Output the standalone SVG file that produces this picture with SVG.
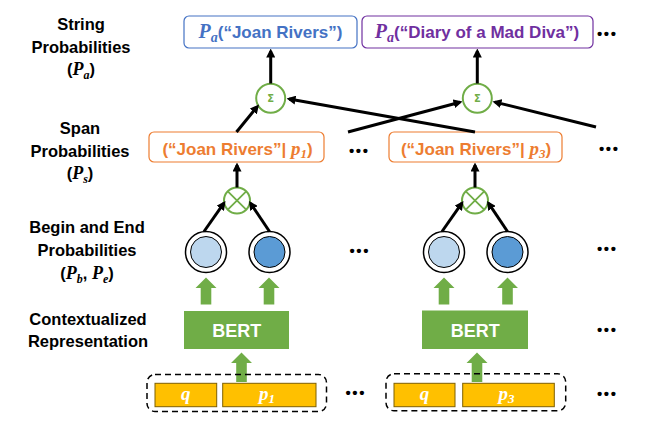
<svg xmlns="http://www.w3.org/2000/svg" width="653" height="434" viewBox="0 0 653 434">
<defs>
<style>
.lbl{font-family:"Liberation Sans",Arial,sans-serif;font-weight:bold;font-size:16.5px;fill:#000;text-anchor:middle}
.m{font-family:"Liberation Serif","DejaVu Serif",serif;font-style:italic;font-weight:bold}
.bx{font-family:"Liberation Sans",Arial,sans-serif;font-weight:bold;font-size:17px;text-anchor:middle}
.dots{font-family:"Liberation Sans",Arial,sans-serif;font-weight:bold;font-size:15px;fill:#000;letter-spacing:1.6px}
.conn{stroke:#000;stroke-width:3;fill:none;marker-end:url(#ah)}
.sum{fill:#fff;stroke:#70AD47;stroke-width:2}
.sumt{font-family:"DejaVu Sans",sans-serif;font-weight:bold;font-size:10px;fill:#70AD47;text-anchor:middle}
.gar{fill:#70AD47}
.outer{fill:#fff;stroke:#000;stroke-width:1.5}
.bert{fill:#70AD47}
.bertt{font-family:"Liberation Sans",Arial,sans-serif;font-weight:bold;font-size:18px;fill:#fff;text-anchor:middle}
.yel{fill:#FFC000;stroke:#7F6000;stroke-width:1}
.yt{font-family:"Liberation Serif","DejaVu Serif",serif;font-style:italic;font-weight:bold;font-size:19px;fill:#fff;text-anchor:middle}
.dash{fill:none;stroke:#000;stroke-width:1.5;stroke-dasharray:6 4}
</style>
<marker id="ah" viewBox="0 0 10 10" refX="7" refY="5" markerWidth="3" markerHeight="3" orient="auto" markerUnits="strokeWidth">
<path d="M0,0 L10,5 L0,10 z" fill="#000"/>
</marker>
</defs>
<rect width="653" height="434" fill="#fff"/>

<g id="labels">
<text class="lbl" x="81" y="30">String</text>
<text class="lbl" x="81" y="52.5">Probabilities</text>
<text class="lbl" x="81" y="75">(<tspan class="m" font-size="18">P</tspan><tspan class="m" font-size="12" dy="4">a</tspan><tspan dy="-4">)</tspan></text>
<text class="lbl" x="80" y="134">Span</text>
<text class="lbl" x="80" y="156.5">Probabilities</text>
<text class="lbl" x="80" y="179">(<tspan class="m" font-size="18">P</tspan><tspan class="m" font-size="12" dy="4">s</tspan><tspan dy="-4">)</tspan></text>
<text class="lbl" x="87" y="232.5">Begin and End</text>
<text class="lbl" x="87" y="255.5">Probabilities</text>
<text class="lbl" x="87" y="278.5">(<tspan class="m" font-size="18">P</tspan><tspan class="m" font-size="12" dy="4">b</tspan><tspan dy="-4">, </tspan><tspan class="m" font-size="18">P</tspan><tspan class="m" font-size="12" dy="4">e</tspan><tspan dy="-4">)</tspan></text>
<text class="lbl" x="88" y="325">Contextualized</text>
<text class="lbl" x="88" y="347">Representation</text>
</g>

<g id="string-joan">
<rect x="184" y="16" width="173" height="32" rx="5" fill="#fff" stroke="#4472C4" stroke-width="1.2"/>
<text class="bx" x="270.5" y="38" fill="#4472C4"><tspan class="m" font-size="20">P</tspan><tspan class="m" font-size="14" dy="4">a</tspan><tspan dy="-4">(“Joan Rivers”)</tspan></text>
</g>
<g id="string-diary">
<rect x="362" y="16" width="231" height="32" rx="5" fill="#fff" stroke="#7030A0" stroke-width="1.2"/>
<text class="bx" x="477" y="38" fill="#7030A0"><tspan class="m" font-size="20">P</tspan><tspan class="m" font-size="14" dy="4">a</tspan><tspan dy="-4">(“Diary of a Mad Diva”)</tspan></text>
</g>

<g id="sum1"><circle class="sum" cx="270.7" cy="98.3" r="14.5"/><text class="sumt" x="270.7" y="102">Σ</text></g>
<g id="sum2"><circle class="sum" cx="477.3" cy="98.3" r="14.5"/><text class="sumt" x="477.3" y="102">Σ</text></g>

<g id="span1">
<rect x="149" y="132" width="175" height="30" rx="5" fill="#fff" stroke="#ED7D31" stroke-width="1.2"/>
<text class="bx" x="237.5" y="154.5" fill="#ED7D31">(“Joan Rivers”| <tspan class="m" font-size="19">p</tspan><tspan class="m" font-size="13" dy="3">1</tspan><tspan dy="-3">)</tspan></text>
</g>
<g id="span3">
<rect x="389" y="132" width="173" height="30" rx="5" fill="#fff" stroke="#ED7D31" stroke-width="1.2"/>
<text class="bx" x="476" y="154.5" fill="#ED7D31">(“Joan Rivers”| <tspan class="m" font-size="19">p</tspan><tspan class="m" font-size="13" dy="3">3</tspan><tspan dy="-3">)</tspan></text>
</g>

<g id="prod1">
<circle class="sum" cx="237" cy="200.5" r="13"/>
<path d="M227.8,191.3 L246.2,209.7 M246.2,191.3 L227.8,209.7" stroke="#70AD47" stroke-width="1.8"/>
</g>
<g id="prod2">
<circle class="sum" cx="475" cy="200.5" r="13"/>
<path d="M465.8,191.3 L484.2,209.7 M484.2,191.3 L465.8,209.7" stroke="#70AD47" stroke-width="1.8"/>
</g>

<g id="begin1"><circle class="outer" cx="206" cy="252" r="20.5"/><circle cx="206" cy="252" r="15.5" fill="#BDD7EE" stroke="#000" stroke-width="1"/></g>
<g id="end1"><circle class="outer" cx="269.5" cy="252" r="20.5"/><circle cx="269.5" cy="252" r="15.5" fill="#5B9BD5" stroke="#000" stroke-width="1"/></g>
<g id="begin3"><circle class="outer" cx="444" cy="252" r="20.5"/><circle cx="444" cy="252" r="15.5" fill="#BDD7EE" stroke="#000" stroke-width="1"/></g>
<g id="end3"><circle class="outer" cx="507.5" cy="252" r="20.5"/><circle cx="507.5" cy="252" r="15.5" fill="#5B9BD5" stroke="#000" stroke-width="1"/></g>

<g id="green-arrows">
<path class="gar" d="M206,277.5 L216.5,288 L211.3,288 L211.3,304.5 L200.7,304.5 L200.7,288 L195.5,288 Z"/>
<path class="gar" d="M269,277.5 L279.5,288 L274.3,288 L274.3,304.5 L263.7,304.5 L263.7,288 L258.5,288 Z"/>
<path class="gar" d="M444,277.5 L454.5,288 L449.3,288 L449.3,304.5 L438.7,304.5 L438.7,288 L433.5,288 Z"/>
<path class="gar" d="M507.5,277.5 L518,288 L512.8,288 L512.8,304.5 L502.2,304.5 L502.2,288 L497,288 Z"/>
<path class="gar" d="M241.5,352.5 L252,363 L246.8,363 L246.8,382 L236.2,382 L236.2,363 L231,363 Z"/>
<path class="gar" d="M477,352.5 L487.5,363 L482.3,363 L482.3,382 L471.7,382 L471.7,363 L466.5,363 Z"/>
</g>

<g id="bert1"><rect class="bert" x="184" y="311" width="105" height="38"/><text class="bertt" x="236.8" y="337">BERT</text></g>
<g id="bert3"><rect class="bert" x="422" y="310.5" width="106" height="38.5"/><text class="bertt" x="475.3" y="337">BERT</text></g>

<g id="input1">
<rect class="dash" x="147" y="374.5" width="179.5" height="37" rx="8"/>
<rect class="yel" x="155" y="383.3" width="61.7" height="23.4"/>
<text class="yt" x="185.8" y="400">q</text>
<rect class="yel" x="222.7" y="383.3" width="93.3" height="23.4"/>
<text class="yt" x="267" y="400">p<tspan font-size="13" dy="3">1</tspan></text>
</g>
<g id="input3">
<rect class="dash" x="386" y="373.8" width="179.7" height="37" rx="8"/>
<rect class="yel" x="394" y="383.3" width="61" height="23.4"/>
<text class="yt" x="424.5" y="400">q</text>
<rect class="yel" x="462.7" y="383.3" width="91.6" height="23.4"/>
<text class="yt" x="506.5" y="400">p<tspan font-size="13" dy="3">3</tspan></text>
</g>

<g id="ellipses">
<text class="dots" x="597" y="39">•••</text>
<text class="dots" x="349" y="156">•••</text>
<text class="dots" x="599" y="154">•••</text>
<text class="dots" x="349.5" y="256">•••</text>
<text class="dots" x="597" y="253.5">•••</text>
<text class="dots" x="597" y="334.5">•••</text>
<text class="dots" x="345.5" y="397.5">•••</text>
<text class="dots" x="597" y="398.5">•••</text>
</g>

<g id="connectors">
<line class="conn" x1="270.7" y1="83.5" x2="270.7" y2="51.2"/>
<line class="conn" x1="477.3" y1="83.5" x2="477.3" y2="51.2"/>
<line class="conn" x1="236.5" y1="132" x2="257.3" y2="106.6"/>
<line class="conn" x1="475" y1="132" x2="289.2" y2="99"/>
<line class="conn" x1="348" y1="132" x2="459.9" y2="102.2"/>
<line class="conn" x1="596" y1="127" x2="495.1" y2="102.1"/>
<line class="conn" x1="237" y1="187.5" x2="237" y2="165.2"/>
<line class="conn" x1="475" y1="187.5" x2="475" y2="165.2"/>
<line class="conn" x1="204" y1="231.5" x2="223.9" y2="203.2"/>
<line class="conn" x1="269.5" y1="231.5" x2="250.5" y2="203.2"/>
<line class="conn" x1="442" y1="231.5" x2="461.9" y2="203.2"/>
<line class="conn" x1="507.5" y1="231.5" x2="488.5" y2="203.2"/>
</g>
</svg>
